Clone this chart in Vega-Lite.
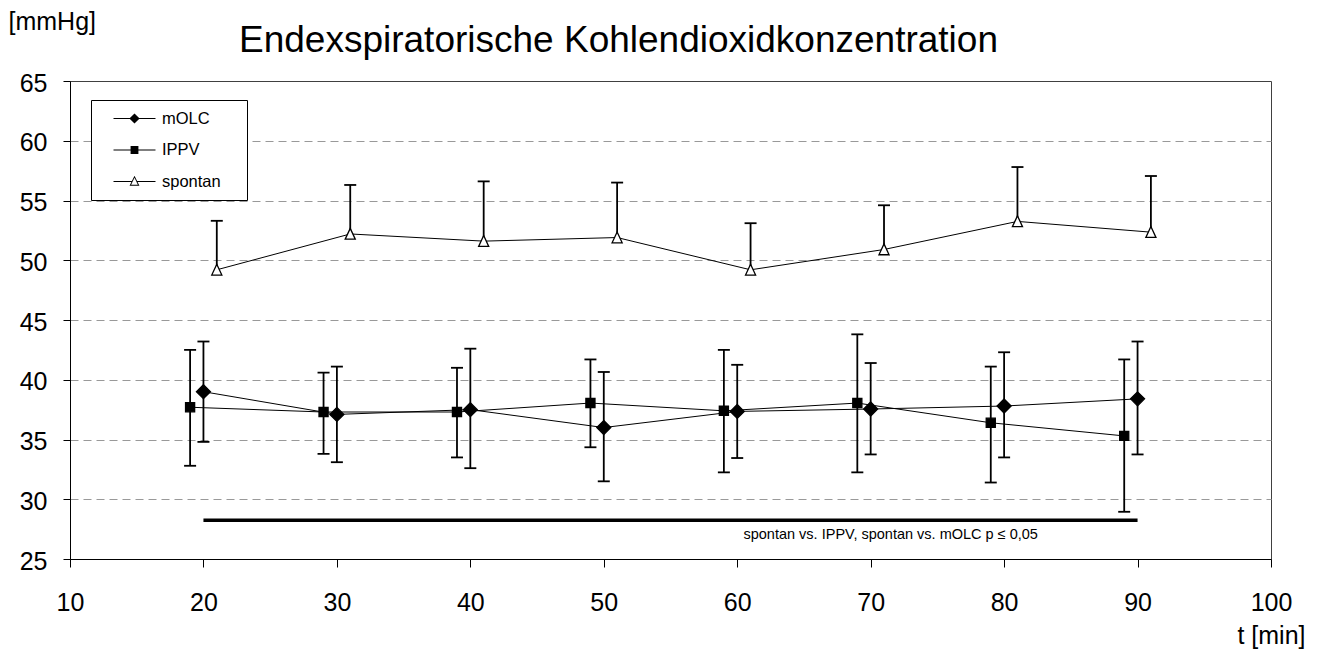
{
  "$schema": "https://vega.github.io/schema/vega-lite/v6.json",
  "width": 1201,
  "height": 478,
  "autosize": "none",
  "padding": {"left": 70, "top": 81, "right": 49, "bottom": 92},
  "background": "white",
  "config": {
    "font": "Liberation Sans",
    "view": {"stroke": "#404040", "strokeWidth": 1},
    "axis": {
      "domainColor": "black",
      "tickColor": "black",
      "labelColor": "black",
      "titleColor": "black",
      "labelFont": "Liberation Sans",
      "titleFont": "Liberation Sans",
      "labelFontSize": 25,
      "titleFontSize": 25,
      "titleFontWeight": "normal"
    }
  },
  "title": {
    "text": "Endexspiratorische Kohlendioxidkonzentration",
    "font": "Liberation Sans",
    "fontSize": 37,
    "fontWeight": "normal",
    "color": "black",
    "anchor": "middle",
    "frame": "group",
    "dx": -52,
    "offset": -80,
    "baseline": "alphabetic"
  },
  "datasets": {
    "d": [
      {"series": "mOLC", "x": 20, "mean": 39.0, "lo": 34.8, "hi": 43.2},
      {"series": "mOLC", "x": 30, "mean": 37.1, "lo": 33.1, "hi": 41.1},
      {"series": "mOLC", "x": 40, "mean": 37.5, "lo": 32.6, "hi": 42.6},
      {"series": "mOLC", "x": 50, "mean": 36.0, "lo": 31.5, "hi": 40.65},
      {"series": "mOLC", "x": 60, "mean": 37.35, "lo": 33.45, "hi": 41.25},
      {"series": "mOLC", "x": 70, "mean": 37.55, "lo": 33.75, "hi": 41.4},
      {"series": "mOLC", "x": 80, "mean": 37.8, "lo": 33.5, "hi": 42.3},
      {"series": "mOLC", "x": 90, "mean": 38.4, "lo": 33.75, "hi": 43.2},
      {"series": "IPPV", "x": 19, "mean": 37.7, "lo": 32.8, "hi": 42.5},
      {"series": "IPPV", "x": 29, "mean": 37.3, "lo": 33.8, "hi": 40.6},
      {"series": "IPPV", "x": 39, "mean": 37.3, "lo": 33.5, "hi": 41.0},
      {"series": "IPPV", "x": 49, "mean": 38.05, "lo": 34.35, "hi": 41.7},
      {"series": "IPPV", "x": 59, "mean": 37.4, "lo": 32.25, "hi": 42.5},
      {"series": "IPPV", "x": 69, "mean": 38.05, "lo": 32.25, "hi": 43.8},
      {"series": "IPPV", "x": 79, "mean": 36.4, "lo": 31.4, "hi": 41.1},
      {"series": "IPPV", "x": 89, "mean": 35.3, "lo": 28.95, "hi": 41.7},
      {"series": "spontan", "x": 21, "mean": 49.2, "lo": 49.2, "hi": 53.3},
      {"series": "spontan", "x": 31, "mean": 52.2, "lo": 52.2, "hi": 56.3},
      {"series": "spontan", "x": 41, "mean": 51.6, "lo": 51.6, "hi": 56.6},
      {"series": "spontan", "x": 51, "mean": 51.9, "lo": 51.9, "hi": 56.5},
      {"series": "spontan", "x": 61, "mean": 49.2, "lo": 49.2, "hi": 53.1},
      {"series": "spontan", "x": 71, "mean": 50.9, "lo": 50.9, "hi": 54.6},
      {"series": "spontan", "x": 81, "mean": 53.25, "lo": 53.25, "hi": 57.8},
      {"series": "spontan", "x": 91, "mean": 52.35, "lo": 52.35, "hi": 57.05}
    ]
  },
  "layer": [
    {
      "data": {"values": [{}]},
      "mark": {"type": "rule", "strokeWidth": 3.5, "color": "black"},
      "encoding": {
        "x": {"datum": 20, "type": "quantitative",
          "scale": {"domain": [10, 100], "nice": false, "zero": false},
          "axis": {
            "values": [10, 20, 30, 40, 50, 60, 70, 80, 90, 100],
            "tickSize": 8,
            "labelBaseline": "alphabetic",
            "labelPadding": 43,
            "labelFlush": false,
            "labelOverlap": false,
            "grid": false,
            "title": "t [min]",
            "titleAlign": "right",
            "titleAnchor": null,
            "titleX": 1235,
            "titleY": 84,
            "titleBaseline": "alphabetic"
          }
        },
        "x2": {"datum": 90},
        "y": {"datum": 28.25, "type": "quantitative",
          "scale": {"domain": [25, 65], "nice": false, "zero": false},
          "axis": {
            "values": [25, 30, 35, 40, 45, 50, 55, 60, 65],
            "tickSize": 7,
            "labelPadding": 16,
            "labelOffset": 2,
            "labelFlush": false,
            "labelOverlap": false,
            "grid": true,
            "gridColor": "#999999",
            "gridDash": [8, 5],
            "gridWidth": 1,
            "gridOpacity": {"condition": {"test": "datum.value == 25 || datum.value == 65", "value": 0}, "value": 1},
            "title": "[mmHg]",
            "titleAngle": 0,
            "titleAlign": "left",
            "titleAnchor": null,
            "titleX": -62,
            "titleY": -52,
            "titleBaseline": "alphabetic"
          }
        }
      }
    },
    {
      "data": {"values": [{}]},
      "mark": {"type": "text", "fontSize": 14.5, "align": "center", "baseline": "middle", "color": "black", "font": "Liberation Sans"},
      "encoding": {
        "x": {"datum": 71.5, "type": "quantitative"},
        "y": {"datum": 27, "type": "quantitative"},
        "text": {"value": "spontan vs. IPPV, spontan vs. mOLC p ≤ 0,05"}
      }
    },
    {
      "data": {"name": "d"},
      "mark": {"type": "rule", "strokeWidth": 1.8, "color": "black"},
      "encoding": {
        "x": {"field": "x", "type": "quantitative"},
        "y": {"field": "lo", "type": "quantitative"},
        "y2": {"field": "hi"}
      }
    },
    {
      "data": {"name": "d"},
      "mark": {"type": "tick", "orient": "horizontal", "size": 12, "thickness": 1.8, "color": "black", "opacity": 1},
      "encoding": {
        "x": {"field": "x", "type": "quantitative"},
        "y": {"field": "hi", "type": "quantitative"}
      }
    },
    {
      "data": {"name": "d"},
      "transform": [{"filter": "datum.series != 'spontan'"}],
      "mark": {"type": "tick", "orient": "horizontal", "size": 12, "thickness": 1.8, "color": "black", "opacity": 1},
      "encoding": {
        "x": {"field": "x", "type": "quantitative"},
        "y": {"field": "lo", "type": "quantitative"}
      }
    },
    {
      "data": {"name": "d"},
      "mark": {"type": "line", "strokeWidth": 1, "color": "black"},
      "encoding": {
        "x": {"field": "x", "type": "quantitative"},
        "y": {"field": "mean", "type": "quantitative"},
        "detail": {"field": "series"}
      }
    },
    {
      "data": {"name": "d"},
      "transform": [{"filter": "datum.series == 'mOLC'"}],
      "mark": {"type": "point", "filled": true, "fill": "black", "stroke": "black", "strokeWidth": 1.3, "size": 196, "opacity": 1, "shape": "M0,-1L1,0L0,1L-1,0Z"},
      "encoding": {
        "x": {"field": "x", "type": "quantitative"},
        "y": {"field": "mean", "type": "quantitative"}
      }
    },
    {
      "data": {"name": "d"},
      "transform": [{"filter": "datum.series == 'IPPV'"}],
      "mark": {"type": "point", "filled": true, "fill": "black", "stroke": "black", "strokeWidth": 1.3, "size": 196, "opacity": 1, "shape": "M-0.65,-0.65H0.65V0.65H-0.65Z"},
      "encoding": {
        "x": {"field": "x", "type": "quantitative"},
        "y": {"field": "mean", "type": "quantitative"}
      }
    },
    {
      "data": {"name": "d"},
      "transform": [{"filter": "datum.series == 'spontan'"}],
      "mark": {"type": "point", "filled": true, "fill": "white", "stroke": "black", "strokeWidth": 1.3, "size": 196, "opacity": 1, "shape": "M0,-0.8L0.72,0.75L-0.72,0.75Z"},
      "encoding": {
        "x": {"field": "x", "type": "quantitative"},
        "y": {"field": "mean", "type": "quantitative"}
      }
    },
    {
      "data": {"name": "d"},
      "transform": [{"filter": "datum.series == 'none'"}],
      "mark": {"type": "point", "filled": true, "color": "black", "opacity": 1},
      "encoding": {
        "x": {"field": "x", "type": "quantitative"},
        "y": {"field": "mean", "type": "quantitative"},
        "shape": {"field": "series", "type": "nominal",
          "scale": {"domain": ["mOLC", "IPPV", "spontan"],
            "range": [
              "M-2.47,-0.06H2.47V0.06H-2.47ZM0,-0.6L0.6,0L0,0.6L-0.6,0ZM11.8,0",
              "M-2.47,-0.06H2.47V0.06H-2.47ZM-0.46,-0.46H0.46V0.46H-0.46ZM11.8,0",
              "M-2.47,-0.06H-0.31V0.06H-2.47ZM0.31,-0.06H2.47V0.06H0.31ZM0,-0.68L0.58,0.5L-0.58,0.5ZM0,-0.428L-0.394,0.374L0.394,0.374ZM11.8,0"
            ]},
          "legend": {
            "title": null,
            "orient": "none",
            "legendX": 21,
            "legendY": 19,
            "strokeColor": "black",
            "fillColor": "white",
            "padding": 9.5,
            "labelFont": "Liberation Sans",
            "labelFontSize": 16.5,
            "labelColor": "black",
            "labelOffset": 18.5,
            "symbolOffset": 25,
            "rowPadding": 13.5,
            "symbolSize": 289,
            "symbolFillColor": "black",
            "symbolStrokeColor": "black",
            "symbolStrokeWidth": 1,
            "symbolOpacity": 1
          }
        }
      }
    }
  ]
}
